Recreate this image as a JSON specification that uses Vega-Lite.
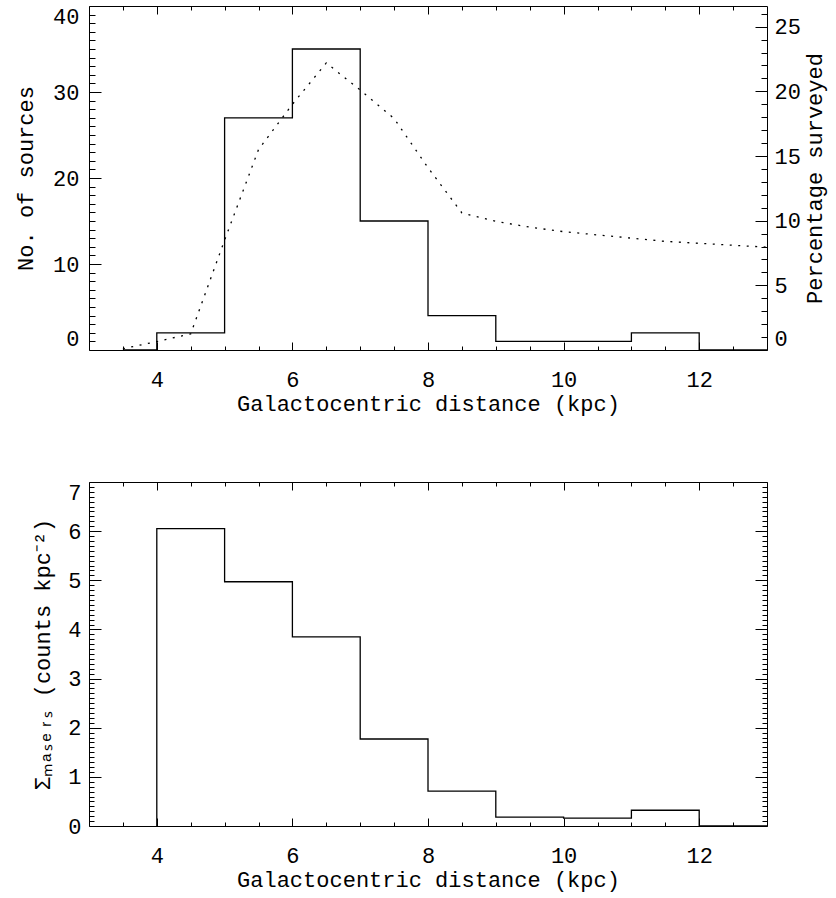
{
  "$schema": "https://vega.github.io/schema/vega-lite/v6.json",
  "padding": {"left": 14, "top": 5, "right": 6, "bottom": 4},
  "background": "white",
  "config": {
    "view": {"stroke": null},
    "font": "Liberation Mono",
    "axis": {
      "grid": false,
      "domainColor": "#000",
      "tickColor": "#000",
      "labelColor": "#000",
      "titleColor": "#000",
      "labelFont": "Liberation Mono",
      "titleFont": "Liberation Mono",
      "labelFontSize": 22,
      "titleFontSize": 22,
      "titleFontWeight": "normal",
      "domainWidth": 1,
      "tickWidth": 1,
      "labelOverlap": false
    }
  },
  "datasets": {
    "counts": [
      {"i": 0, "d": 3.5, "n": 0},
      {"i": 1, "d": 4, "n": 2},
      {"i": 2, "d": 5, "n": 27},
      {"i": 3, "d": 6, "n": 35},
      {"i": 4, "d": 7, "n": 15},
      {"i": 5, "d": 8, "n": 4},
      {"i": 6, "d": 9, "n": 1},
      {"i": 7, "d": 10, "n": 1},
      {"i": 8, "d": 11, "n": 2},
      {"i": 9, "d": 12, "n": 0},
      {"i": 10, "d": 13, "n": 0}
    ],
    "pct": [
      {"d": 3.5, "p": 0.1},
      {"d": 4, "p": 0.65},
      {"d": 4.5, "p": 1.25},
      {"d": 5, "p": 8.5},
      {"d": 5.5, "p": 15.5},
      {"d": 6, "p": 19.0},
      {"d": 6.5, "p": 22.2},
      {"d": 7, "p": 20.1},
      {"d": 7.5, "p": 17.9},
      {"d": 8, "p": 14.1},
      {"d": 8.5, "p": 10.6},
      {"d": 9, "p": 9.95},
      {"d": 9.5, "p": 9.5},
      {"d": 10, "p": 9.15},
      {"d": 10.5, "p": 8.9},
      {"d": 11, "p": 8.65},
      {"d": 11.5, "p": 8.4},
      {"d": 12, "p": 8.25},
      {"d": 12.5, "p": 8.1},
      {"d": 13, "p": 7.95}
    ],
    "density": [
      {"i": 0, "d": 4, "s": 0},
      {"i": 1, "d": 4, "s": 6.05},
      {"i": 2, "d": 5, "s": 4.97},
      {"i": 3, "d": 6, "s": 3.85},
      {"i": 4, "d": 7, "s": 1.77},
      {"i": 5, "d": 8, "s": 0.71},
      {"i": 6, "d": 9, "s": 0.18},
      {"i": 7, "d": 10, "s": 0.16},
      {"i": 8, "d": 11, "s": 0.32},
      {"i": 9, "d": 12, "s": 0},
      {"i": 10, "d": 13, "s": 0}
    ]
  },
  "spacing": 67,
  "vconcat": [
    {
      "width": 678,
      "height": 344,
      "resolve": {
        "scale": {"y": "independent"},
        "axis": {"x": "independent", "y": "independent"}
      },
      "layer": [
        {
          "data": {"name": "counts"},
          "mark": {"type": "line", "interpolate": "step-after", "color": "#000", "strokeWidth": 1.3},
          "encoding": {
            "x": {"field": "d", "type": "quantitative",
              "scale": {"domain": [3, 13], "nice": false, "zero": false},
              "axis": {"orient": "bottom", "values": [4, 6, 8, 10, 12], "tickSize": -8, "labelPadding": 27,
                "title": "Galactocentric distance (kpc)", "titlePadding": 3}},
            "y": {"field": "n", "type": "quantitative",
              "scale": {"domain": [0, 40], "nice": false},
              "axis": {"orient": "left", "values": [0, 10, 20, 30, 40], "tickSize": -12, "labelPadding": 22,
                "labelFlush": true, "title": "No. of sources", "titlePadding": 15}},
            "order": {"field": "i", "type": "quantitative"}
          }
        },
        {
          "data": {"name": "pct"},
          "mark": {"type": "line", "color": "#000", "strokeWidth": 1.3, "strokeDash": [2, 6.5]},
          "encoding": {
            "x": {"field": "d", "type": "quantitative",
              "scale": {"domain": [3, 13], "nice": false, "zero": false},
              "axis": {"orient": "top", "values": [4, 6, 8, 10, 12], "tickSize": -8, "labels": false, "title": null}},
            "y": {"field": "p", "type": "quantitative",
              "scale": {"domain": [0, 26.6], "nice": false},
              "axis": {"orient": "right", "values": [0, 5, 10, 15, 20, 25], "tickSize": -12, "labelPadding": 19,
                "labelFlush": true, "title": "Percentage surveyed", "titleAngle": -90, "titleBaseline": "top", "titlePadding": 4}}
          }
        },
        {
          "data": {"name": "counts"},
          "mark": {"type": "line", "opacity": 0},
          "encoding": {
            "x": {"field": "d", "type": "quantitative",
              "scale": {"domain": [3, 13], "nice": false, "zero": false},
              "axis": {"orient": "bottom", "values": [3.5, 4.5, 5, 5.5, 6.5, 7, 7.5, 8.5, 9, 9.5, 10.5, 11, 11.5, 12.5],
                "tickSize": -4, "labels": false, "domain": false, "title": null}},
            "y": {"field": "n", "type": "quantitative",
              "scale": {"domain": [0, 40], "nice": false},
              "axis": {"orient": "left", "values": [1, 2, 3, 4, 5, 6, 7, 8, 9, 11, 12, 13, 14, 15, 16, 17, 18, 19, 21, 22, 23, 24, 25, 26, 27, 28, 29, 31, 32, 33, 34, 35, 36, 37, 38, 39],
                "tickSize": -6, "labels": false, "domain": false, "title": null}}
          }
        },
        {
          "data": {"name": "pct"},
          "mark": {"type": "line", "opacity": 0},
          "encoding": {
            "x": {"field": "d", "type": "quantitative",
              "scale": {"domain": [3, 13], "nice": false, "zero": false},
              "axis": {"orient": "top", "values": [3.5, 4.5, 5, 5.5, 6.5, 7, 7.5, 8.5, 9, 9.5, 10.5, 11, 11.5, 12.5],
                "tickSize": -4, "labels": false, "domain": false, "title": null}},
            "y": {"field": "p", "type": "quantitative",
              "scale": {"domain": [0, 26.6], "nice": false},
              "axis": {"orient": "right", "values": [1, 2, 3, 4, 6, 7, 8, 9, 11, 12, 13, 14, 16, 17, 18, 19, 21, 22, 23, 24, 26],
                "tickSize": -6, "labels": false, "domain": false, "title": null}}
          }
        }
      ]
    },
    {
      "width": 678,
      "height": 344,
      "resolve": {
        "axis": {"x": "independent", "y": "independent"}
      },
      "layer": [
        {
          "data": {"name": "density"},
          "mark": {"type": "line", "interpolate": "step-after", "color": "#000", "strokeWidth": 1.3},
          "encoding": {
            "x": {"field": "d", "type": "quantitative",
              "scale": {"domain": [3, 13], "nice": false, "zero": false},
              "axis": {"orient": "bottom", "values": [4, 6, 8, 10, 12], "tickSize": -8, "labelPadding": 27,
                "title": "Galactocentric distance (kpc)", "titlePadding": 3}},
            "y": {"field": "s", "type": "quantitative",
              "scale": {"domain": [0, 7], "nice": false},
              "axis": {"orient": "left", "values": [0, 1, 2, 3, 4, 5, 6, 7], "tickSize": -12, "labelPadding": 20,
                "labelBaseline": {"condition": {"test": "datum.value == 7", "value": "top"}, "value": "middle"},
                "title": "Σₘₐₛₑᵣₛ (counts kpc⁻²)", "titlePadding": 13}},
            "order": {"field": "i", "type": "quantitative"}
          }
        },
        {
          "data": {"name": "density"},
          "mark": {"type": "line", "opacity": 0},
          "encoding": {
            "x": {"field": "d", "type": "quantitative",
              "axis": {"orient": "top", "values": [4, 6, 8, 10, 12], "tickSize": -8, "labels": false, "title": null}},
            "y": {"field": "s", "type": "quantitative",
              "axis": {"orient": "right", "values": [0, 1, 2, 3, 4, 5, 6, 7], "tickSize": -12, "labels": false, "title": null}}
          }
        },
        {
          "data": {"name": "density"},
          "mark": {"type": "line", "opacity": 0},
          "encoding": {
            "x": {"field": "d", "type": "quantitative",
              "axis": {"orient": "bottom", "values": [3.5, 4.5, 5, 5.5, 6.5, 7, 7.5, 8.5, 9, 9.5, 10.5, 11, 11.5, 12.5],
                "tickSize": -4, "labels": false, "domain": false, "title": null}},
            "y": {"field": "s", "type": "quantitative",
              "axis": {"orient": "left", "values": [0.1, 0.2, 0.3, 0.4, 0.5, 0.6, 0.7, 0.8, 0.9, 1.1, 1.2, 1.3, 1.4, 1.5, 1.6, 1.7, 1.8, 1.9, 2.1, 2.2, 2.3, 2.4, 2.5, 2.6, 2.7, 2.8, 2.9, 3.1, 3.2, 3.3, 3.4, 3.5, 3.6, 3.7, 3.8, 3.9, 4.1, 4.2, 4.3, 4.4, 4.5, 4.6, 4.7, 4.8, 4.9, 5.1, 5.2, 5.3, 5.4, 5.5, 5.6, 5.7, 5.8, 5.9, 6.1, 6.2, 6.3, 6.4, 6.5, 6.6, 6.7, 6.8, 6.9],
                "tickSize": -5, "labels": false, "domain": false, "title": null}}
          }
        },
        {
          "data": {"name": "density"},
          "mark": {"type": "line", "opacity": 0},
          "encoding": {
            "x": {"field": "d", "type": "quantitative",
              "axis": {"orient": "top", "values": [3.5, 4.5, 5, 5.5, 6.5, 7, 7.5, 8.5, 9, 9.5, 10.5, 11, 11.5, 12.5],
                "tickSize": -4, "labels": false, "domain": false, "title": null}},
            "y": {"field": "s", "type": "quantitative",
              "axis": {"orient": "right", "values": [0.1, 0.2, 0.3, 0.4, 0.5, 0.6, 0.7, 0.8, 0.9, 1.1, 1.2, 1.3, 1.4, 1.5, 1.6, 1.7, 1.8, 1.9, 2.1, 2.2, 2.3, 2.4, 2.5, 2.6, 2.7, 2.8, 2.9, 3.1, 3.2, 3.3, 3.4, 3.5, 3.6, 3.7, 3.8, 3.9, 4.1, 4.2, 4.3, 4.4, 4.5, 4.6, 4.7, 4.8, 4.9, 5.1, 5.2, 5.3, 5.4, 5.5, 5.6, 5.7, 5.8, 5.9, 6.1, 6.2, 6.3, 6.4, 6.5, 6.6, 6.7, 6.8, 6.9],
                "tickSize": -5, "labels": false, "domain": false, "title": null}}
          }
        }
      ]
    }
  ]
}
